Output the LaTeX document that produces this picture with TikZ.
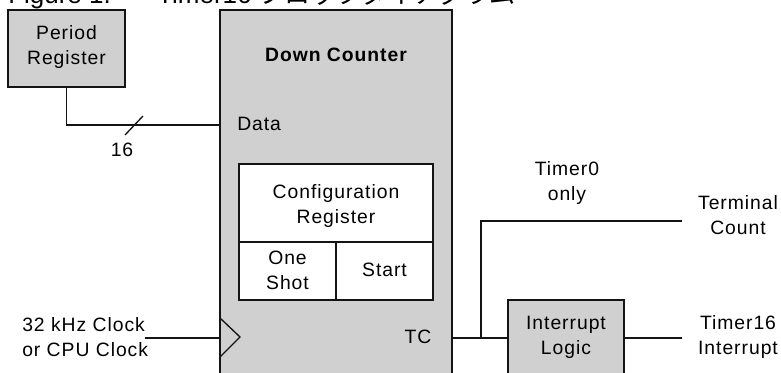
\documentclass[tikz,border=0pt]{standalone}
\usepackage{fontspec}
\setmainfont{Liberation Sans}
\newfontfamily\bodyfont[LetterSpace=5]{Liberation Sans}
\newfontfamily\cjk{Noto Sans CJK JP}
\definecolor{boxgray}{RGB}{208,208,208}
\definecolor{inkline}{RGB}{20,20,20}
\begin{document}
\begin{tikzpicture}[x=0.75pt,y=-0.75pt,
  wire/.style={draw=inkline,line width=1pt},
  graybox/.style={draw=inkline,line width=1pt,fill=boxgray,inner sep=0pt},
  whitebox/.style={draw=inkline,line width=1pt,fill=white,inner sep=0pt},
  txt/.style={inner sep=0pt,align=center,font=\bodyfont\fontsize{14.5pt}{18.75pt}\selectfont},
  txtl/.style={inner sep=0pt,align=left,font=\bodyfont\fontsize{14.5pt}{18.75pt}\selectfont},
  ttl/.style={inner sep=0pt,anchor=base west,font=\fontsize{19.5pt}{23pt}\selectfont}]
\useasboundingbox (0,0) rectangle (781,373);
\clip (0,0) rectangle (781,373);

% caption line, cut at the upper edge
\node[ttl] (capnum) at (8,4) {Figure 1.};
\node[ttl] (captxt) at (157,4) {Timer16 {\cjk ブロックダイアグラム}};

% blocks
\node[graybox,minimum width=87.75pt,minimum height=57.75pt] (per) at (66.5,48.5) {};
\node[txt] (perlbl) at (66.5,47) {Period\\Register};

\node[graybox,minimum width=174pt,minimum height=285pt] (dc) at (336,200) {};
\node[txt,font=\bodyfont\fontsize{14.5pt}{18.75pt}\selectfont\bfseries] (dclbl) at (336,55) {Down Counter};
\node[txtl,anchor=west] (data) at (237,124) {Data};

\node[whitebox,minimum width=145.5pt,minimum height=58.5pt] (cfg) at (336,203) {};
\node[txt] (cfglbl) at (336,206) {Configuration\\Register};
\node[whitebox,minimum width=72.75pt,minimum height=43.5pt] (one) at (287.5,271) {};
\node[txt] (onelbl) at (287.5,270) {One\\Shot};
\node[whitebox,minimum width=72.75pt,minimum height=43.5pt] (start) at (384.5,271) {};
\node[txt] (startlbl) at (384.5,270) {Start};

\node[txt] (tc) at (418,337) {TC};

\node[graybox,minimum width=87pt,minimum height=67.5pt] (il) at (566,345) {};
\node[txt] (illbl) at (566,337) {Interrupt\\Logic};

% signal names
\node[txtl,anchor=west] (clk) at (22,337) {32 kHz Clock\\or CPU Clock};
\node[txt] (t0) at (567,183) {Timer0\\only};
\node[txt] (term) at (738,215) {Terminal\\Count};
\node[txt] (irq) at (738,337) {Timer16\\Interrupt};

% connection points
\coordinate (clkin) at (145,338);
\coordinate (bus) at (134,125);
\coordinate (br) at (481,338);
\coordinate (tcout) at (682,221);
\coordinate (irqout) at (682,338);

% data bus, 16 bits
\draw[wire] (per.south) |- (dc.west |- bus);
\draw[wire] ([shift={(-9,10)}]bus) -- ([shift={(9,-9)}]bus);
\node[txt] (buswidth) at (122,150) {16};

% clock input with edge marker
\draw[wire] (clkin) -- (dc.west |- clkin);
\draw[wire] (220,318) -- (240,337) -- (220,357);

% terminal count path
\draw[wire] (dc.east |- br) -- (il.west |- br);
\draw[wire] (br) |- (tcout);
\draw[wire] (il.east |- irqout) -- (irqout);
\end{tikzpicture}
\end{document}
